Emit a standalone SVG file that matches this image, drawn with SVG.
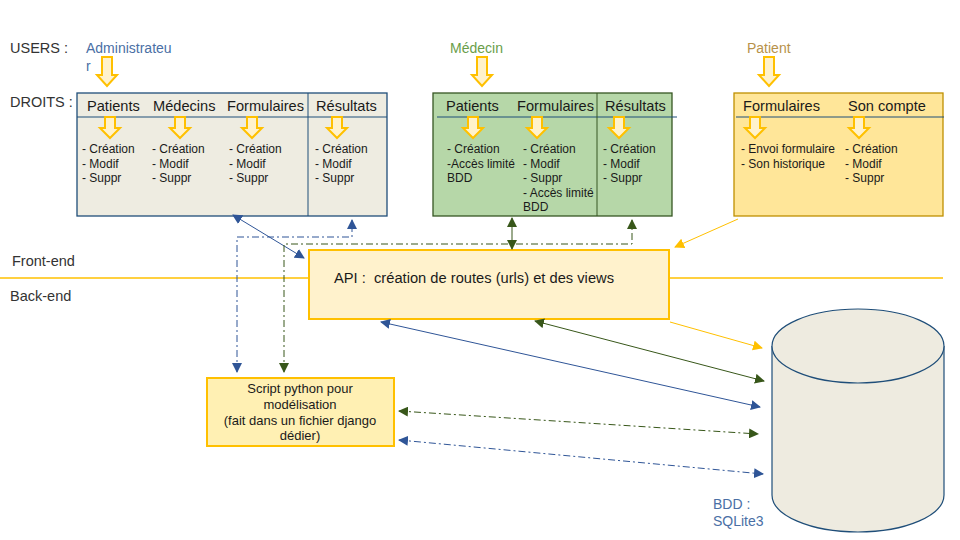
<svg xmlns="http://www.w3.org/2000/svg" width="960" height="540" viewBox="0 0 960 540">
<style>
text{font-family:"Liberation Sans",Arial,sans-serif;fill:#1a1a1a}
.lbl{font-size:14.5px;fill:#333}
.hd{font-size:14.6px}
.it{font-size:12px}
.bigarr,.smarr{fill:#fff2cc;stroke:#ffc000;stroke-width:2;stroke-linejoin:miter}
.blue{stroke:#2f5597;stroke-width:1;fill:none}
.green{stroke:#38571a;stroke-width:1;fill:none}
.yellow{stroke:#ffc000;stroke-width:1;fill:none}
.dd{stroke-dasharray:7 3 2 3}
</style>
<defs>
<marker id="mb" viewBox="0 0 10 10" refX="9" refY="5" markerWidth="10" markerHeight="10" markerUnits="userSpaceOnUse" orient="auto-start-reverse"><path d="M0 0L10 5L0 10Z" fill="#2f5597"/></marker>
<marker id="mg" viewBox="0 0 10 10" refX="9" refY="5" markerWidth="10" markerHeight="10" markerUnits="userSpaceOnUse" orient="auto-start-reverse"><path d="M0 0L10 5L0 10Z" fill="#38571a"/></marker>
<marker id="my" viewBox="0 0 10 10" refX="9" refY="5" markerWidth="10" markerHeight="10" markerUnits="userSpaceOnUse" orient="auto-start-reverse"><path d="M0 0L10 5L0 10Z" fill="#ffc000"/></marker>
<path id="big" class="bigarr" d="M-5 0H5V18H10L0 29L-10 18H-5Z"/>
<path id="sm" class="smarr" d="M-5 0H5V11H10L0 21L-10 11H-5Z"/>
</defs>

<line x1="0" y1="278" x2="943" y2="278" stroke="#ffc000" stroke-width="1.5"/>

<g id="labels">
<text class="lbl" x="10" y="53">USERS :</text>
<text class="lbl" x="10" y="107">DROITS :</text>
<text class="lbl" x="12" y="266">Front-end</text>
<text class="lbl" x="10" y="301">Back-end</text>
</g>

<g id="user-admin">
<text x="86" y="53" style="font-size:14px;fill:#4a6fa5">Administrateu</text>
<text x="86" y="71" style="font-size:14px;fill:#4a6fa5">r</text>
<use href="#big" x="107" y="57"/>
</g>
<g id="user-medecin">
<text x="450" y="53" style="font-size:14px;fill:#6a9e4a">Médecin</text>
<use href="#big" x="482" y="57"/>
</g>
<g id="user-patient">
<text x="747" y="53" style="font-size:14px;fill:#b8924a">Patient</text>
<use href="#big" x="769" y="57"/>
</g>

<g id="droits-admin">
<rect x="77" y="93" width="310" height="123" fill="#eeece1" stroke="#1f4e79" stroke-width="1.3"/>
<line x1="77" y1="117" x2="387" y2="117" stroke="#1f4e79" stroke-width="1"/>
<line x1="308" y1="93" x2="308" y2="216" stroke="#1f4e79" stroke-width="1"/>
<text class="hd" x="87" y="111">Patients</text>
<text class="hd" x="153" y="111">Médecins</text>
<text class="hd" x="227" y="111">Formulaires</text>
<text class="hd" x="316" y="111">Résultats</text>
<use href="#sm" x="110" y="117"/>
<use href="#sm" x="180" y="117"/>
<use href="#sm" x="252" y="117"/>
<use href="#sm" x="337" y="117"/>
<text class="it" x="82" y="153">- Création</text><text class="it" x="82" y="168">- Modif</text><text class="it" x="82" y="182">- Suppr</text>
<text class="it" x="152" y="153">- Création</text><text class="it" x="152" y="168">- Modif</text><text class="it" x="152" y="182">- Suppr</text>
<text class="it" x="229" y="153">- Création</text><text class="it" x="229" y="168">- Modif</text><text class="it" x="229" y="182">- Suppr</text>
<text class="it" x="315" y="153">- Création</text><text class="it" x="315" y="168">- Modif</text><text class="it" x="315" y="182">- Suppr</text>
</g>

<g id="droits-medecin">
<rect x="433" y="93" width="239" height="123" fill="#b6d7a8" stroke="#375623" stroke-width="1.3"/>
<line x1="437" y1="117" x2="677" y2="117" stroke="#1f4e79" stroke-width="1"/>
<line x1="597" y1="93" x2="597" y2="216" stroke="#375623" stroke-width="1"/>
<text class="hd" x="446" y="111">Patients</text>
<text class="hd" x="517" y="111">Formulaires</text>
<text class="hd" x="605" y="111">Résultats</text>
<use href="#sm" x="473" y="117"/>
<use href="#sm" x="537" y="117"/>
<use href="#sm" x="619" y="117"/>
<text class="it" x="447" y="153">- Création</text><text class="it" x="447" y="168">-Accès limité</text><text class="it" x="447" y="182">BDD</text>
<text class="it" x="523" y="153">- Création</text><text class="it" x="523" y="168">- Modif</text><text class="it" x="523" y="182">- Suppr</text><text class="it" x="523" y="197">- Accès limité</text><text class="it" x="523" y="211">BDD</text>
<text class="it" x="603" y="153">- Création</text><text class="it" x="603" y="168">- Modif</text><text class="it" x="603" y="182">- Suppr</text>
</g>

<g id="droits-patient">
<rect x="734" y="93" width="209" height="123" fill="#ffe699" stroke="#bf9000" stroke-width="1.3"/>
<line x1="736" y1="117" x2="944" y2="117" stroke="#1f4e79" stroke-width="1"/>
<text class="hd" x="743" y="111">Formulaires</text>
<text class="hd" x="848" y="111">Son compte</text>
<use href="#sm" x="755" y="117"/>
<use href="#sm" x="859" y="117"/>
<text class="it" x="741" y="153">- Envoi formulaire</text><text class="it" x="741" y="168">- Son historique</text>
<text class="it" x="845" y="153">- Création</text><text class="it" x="845" y="168">- Modif</text><text class="it" x="845" y="182">- Suppr</text>
</g>

<g id="api">
<rect x="309" y="250" width="360" height="69" fill="#fff2cc" stroke="#ffc000" stroke-width="2"/>
<text x="334" y="283" style="font-size:14.7px;white-space:pre" xml:space="preserve">API :  création de routes (urls) et des views</text>
</g>

<g id="script">
<rect x="207" y="378" width="187" height="68" fill="#fff0b3" stroke="#ffc000" stroke-width="2"/>
<g style="font-size:13px" text-anchor="middle">
<text x="300" y="393">Script python pour</text>
<text x="300" y="409">modélisation</text>
<text x="300" y="425">(fait dans un fichier django</text>
<text x="300" y="440">dédier)</text>
</g>
</g>

<g id="bdd">
<path d="M772 346V495A86 37 0 0 0 944 495V346" fill="#eeebe0" stroke="#1f4e79" stroke-width="1.2"/>
<ellipse cx="858" cy="346" rx="86" ry="37" fill="#eeebe0" stroke="#1f4e79" stroke-width="1.2"/>
<text x="713" y="509" style="font-size:14px;fill:#4a6fa5">BDD :</text>
<text x="713" y="526" style="font-size:14px;fill:#4a6fa5">SQLite3</text>
</g>

<g id="connectors">
<path class="blue" d="M233 215L304 258" marker-start="url(#mb)" marker-end="url(#mb)"/>
<path class="blue dd" d="M237 372V237H352V220" marker-start="url(#mb)" marker-end="url(#mb)"/>
<path class="green dd" d="M284 372V244H632V220" marker-start="url(#mg)" marker-end="url(#mg)"/>
<path class="green" d="M512 218V249" stroke-width="1.3" marker-start="url(#mg)" marker-end="url(#mg)"/>
<path class="yellow" d="M738 219L675 247" marker-end="url(#my)"/>
<path class="yellow" d="M670 322L762 348" marker-end="url(#my)"/>
<path class="green" d="M535 321L764 381" marker-start="url(#mg)" marker-end="url(#mg)"/>
<path class="blue" d="M381 322L760 407" marker-start="url(#mb)" marker-end="url(#mb)"/>
<path class="green dd" d="M399 411L758 434" marker-start="url(#mg)" marker-end="url(#mg)"/>
<path class="blue dd" d="M399 440L763 474" marker-start="url(#mb)" marker-end="url(#mb)"/>
</g>
</svg>
